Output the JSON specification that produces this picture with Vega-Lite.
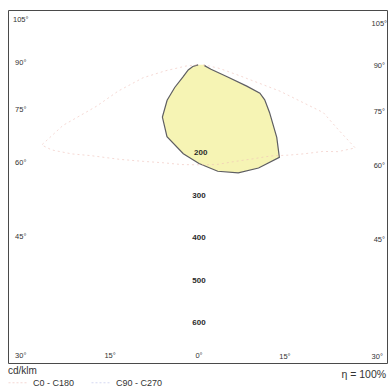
{
  "$schema": "https://vega.github.io/schema/vega-lite/v6.json",
  "width": 379,
  "height": 353,
  "autosize": "none",
  "padding": {"left": 8, "top": 10, "right": 5, "bottom": 25},
  "background": "white",
  "config": {"view": {"stroke": "#4a4a4a", "strokeWidth": 1}, "font": "Liberation Sans"},
  "datasets": {
    "c90": [
      {"series": "C90 - C270", "angle": -90, "cd": 2},
      {"series": "C90 - C270", "angle": -75, "cd": 15},
      {"series": "C90 - C270", "angle": -65, "cd": 28},
      {"series": "C90 - C270", "angle": -53, "cd": 47},
      {"series": "C90 - C270", "angle": -47, "cd": 78},
      {"series": "C90 - C270", "angle": -42, "cd": 112},
      {"series": "C90 - C270", "angle": -35, "cd": 150},
      {"series": "C90 - C270", "angle": -24, "cd": 185},
      {"series": "C90 - C270", "angle": -10, "cd": 212},
      {"series": "C90 - C270", "angle": 0, "cd": 232},
      {"series": "C90 - C270", "angle": 10, "cd": 254},
      {"series": "C90 - C270", "angle": 20, "cd": 270},
      {"series": "C90 - C270", "angle": 30, "cd": 280},
      {"series": "C90 - C270", "angle": 41, "cd": 288},
      {"series": "C90 - C270", "angle": 47, "cd": 250},
      {"series": "C90 - C270", "angle": 56, "cd": 200},
      {"series": "C90 - C270", "angle": 62, "cd": 175},
      {"series": "C90 - C270", "angle": 65, "cd": 158},
      {"series": "C90 - C270", "angle": 66, "cd": 123},
      {"series": "C90 - C270", "angle": 67, "cd": 72},
      {"series": "C90 - C270", "angle": 70, "cd": 30},
      {"series": "C90 - C270", "angle": 80, "cd": 14},
      {"series": "C90 - C270", "angle": 90, "cd": 14}
    ],
    "c0": [
      {"series": "C0 - C180", "angle": -90, "cd": 5},
      {"series": "C0 - C180", "angle": -85, "cd": 30},
      {"series": "C0 - C180", "angle": -80, "cd": 80},
      {"series": "C0 - C180", "angle": -77, "cd": 135},
      {"series": "C0 - C180", "angle": -72, "cd": 200},
      {"series": "C0 - C180", "angle": -68, "cd": 260},
      {"series": "C0 - C180", "angle": -66, "cd": 350},
      {"series": "C0 - C180", "angle": -63, "cd": 415},
      {"series": "C0 - C180", "angle": -60, "cd": 400},
      {"series": "C0 - C180", "angle": -55, "cd": 365},
      {"series": "C0 - C180", "angle": -50, "cd": 332},
      {"series": "C0 - C180", "angle": -40, "cd": 290},
      {"series": "C0 - C180", "angle": -30, "cd": 262},
      {"series": "C0 - C180", "angle": -20, "cd": 245},
      {"series": "C0 - C180", "angle": -10, "cd": 238},
      {"series": "C0 - C180", "angle": 0, "cd": 235},
      {"series": "C0 - C180", "angle": 10, "cd": 238},
      {"series": "C0 - C180", "angle": 20, "cd": 242},
      {"series": "C0 - C180", "angle": 30, "cd": 255},
      {"series": "C0 - C180", "angle": 38, "cd": 272},
      {"series": "C0 - C180", "angle": 45, "cd": 300},
      {"series": "C0 - C180", "angle": 50, "cd": 325},
      {"series": "C0 - C180", "angle": 55, "cd": 355},
      {"series": "C0 - C180", "angle": 58, "cd": 385},
      {"series": "C0 - C180", "angle": 62, "cd": 416},
      {"series": "C0 - C180", "angle": 65, "cd": 362},
      {"series": "C0 - C180", "angle": 69, "cd": 313},
      {"series": "C0 - C180", "angle": 72, "cd": 200},
      {"series": "C0 - C180", "angle": 75, "cd": 100},
      {"series": "C0 - C180", "angle": 80, "cd": 50},
      {"series": "C0 - C180", "angle": 85, "cd": 20},
      {"series": "C0 - C180", "angle": 90, "cd": 5}
    ],
    "angleLabels": [
      {"t": "105°", "x": -419, "y": 106},
      {"t": "90°", "x": -419, "y": 5},
      {"t": "75°", "x": -419, "y": -106},
      {"t": "60°", "x": -419, "y": -231},
      {"t": "45°", "x": -419, "y": -405},
      {"t": "30°", "x": -419, "y": -685},
      {"t": "15°", "x": -209, "y": -685},
      {"t": "0°", "x": 0, "y": -685},
      {"t": "15°", "x": 202, "y": -687},
      {"t": "30°", "x": 419, "y": -687},
      {"t": "105°", "x": 424, "y": 96},
      {"t": "90°", "x": 424, "y": -2},
      {"t": "75°", "x": 424, "y": -111},
      {"t": "60°", "x": 424, "y": -238},
      {"t": "45°", "x": 424, "y": -412}
    ],
    "radialLabels": [
      {"t": "200", "x": 4, "y": -207},
      {"t": "300", "x": 0, "y": -308},
      {"t": "400", "x": 0, "y": -407},
      {"t": "500", "x": 0, "y": -508},
      {"t": "600", "x": 0, "y": -607}
    ]
  },
  "layer": [
    {
      "data": {"name": "c90"},
      "transform": [
        {"calculate": "datum.cd * sin(datum.angle * PI / 180)", "as": "px"},
        {"calculate": "-datum.cd * cos(datum.angle * PI / 180)", "as": "py"}
      ],
      "mark": {"type": "line", "fill": "#f6f4b4", "stroke": "#5e5e62", "strokeWidth": 1.2},
      "encoding": {
        "x": {"field": "px", "type": "quantitative", "scale": {"domain": [-449, 442], "nice": false, "zero": false}, "axis": null},
        "y": {"field": "py", "type": "quantitative", "scale": {"domain": [-701, 129], "nice": false, "zero": false}, "axis": null},
        "order": {"field": "angle", "type": "quantitative"}
      }
    },
    {
      "data": {"name": "c0"},
      "transform": [
        {"calculate": "datum.cd * sin(datum.angle * PI / 180)", "as": "px"},
        {"calculate": "-datum.cd * cos(datum.angle * PI / 180)", "as": "py"}
      ],
      "mark": {"type": "line", "strokeWidth": 1, "strokeDash": [2, 3], "opacity": 0.6},
      "encoding": {
        "x": {"field": "px", "type": "quantitative"},
        "y": {"field": "py", "type": "quantitative"},
        "order": {"field": "angle", "type": "quantitative"},
        "color": {
          "field": "series",
          "type": "nominal",
          "scale": {"domain": ["C0 - C180", "C90 - C270"], "range": ["#eebfb8", "#bcc0ea"]},
          "legend": {
            "title": null,
            "orient": "bottom",
            "direction": "horizontal",
            "offset": 9,
            "padding": 0,
            "symbolType": "stroke",
            "symbolSize": 400,
            "symbolStrokeWidth": 1,
            "symbolDash": [2, 2],
            "labelFontSize": 9,
            "labelColor": "#333333",
            "labelFont": "Liberation Sans",
            "columnPadding": 14,
            "symbolOffset": 0
          }
        }
      }
    },
    {
      "data": {"name": "angleLabels"},
      "mark": {"type": "text", "fontSize": 7.5, "fill": "#333333", "align": "center", "baseline": "middle"},
      "encoding": {
        "x": {"field": "x", "type": "quantitative"},
        "y": {"field": "y", "type": "quantitative"},
        "text": {"field": "t"}
      }
    },
    {
      "data": {"name": "radialLabels"},
      "mark": {"type": "text", "fontSize": 8, "fontWeight": "bold", "fill": "#2a2a2a", "align": "center", "baseline": "middle"},
      "encoding": {
        "x": {"field": "x", "type": "quantitative"},
        "y": {"field": "y", "type": "quantitative"},
        "text": {"field": "t"}
      }
    },
    {
      "data": {"values": [{"t": "cd/klm", "x": -449, "y": -719}]},
      "mark": {"type": "text", "fontSize": 10, "fill": "#333333", "align": "left", "baseline": "middle"},
      "encoding": {
        "x": {"field": "x", "type": "quantitative"},
        "y": {"field": "y", "type": "quantitative"},
        "text": {"field": "t"}
      }
    },
    {
      "data": {"values": [{"t": "η = 100%", "x": 440, "y": -729}]},
      "mark": {"type": "text", "fontSize": 10.5, "fill": "#333333", "align": "right", "baseline": "middle"},
      "encoding": {
        "x": {"field": "x", "type": "quantitative"},
        "y": {"field": "y", "type": "quantitative"},
        "text": {"field": "t"}
      }
    }
  ]
}
